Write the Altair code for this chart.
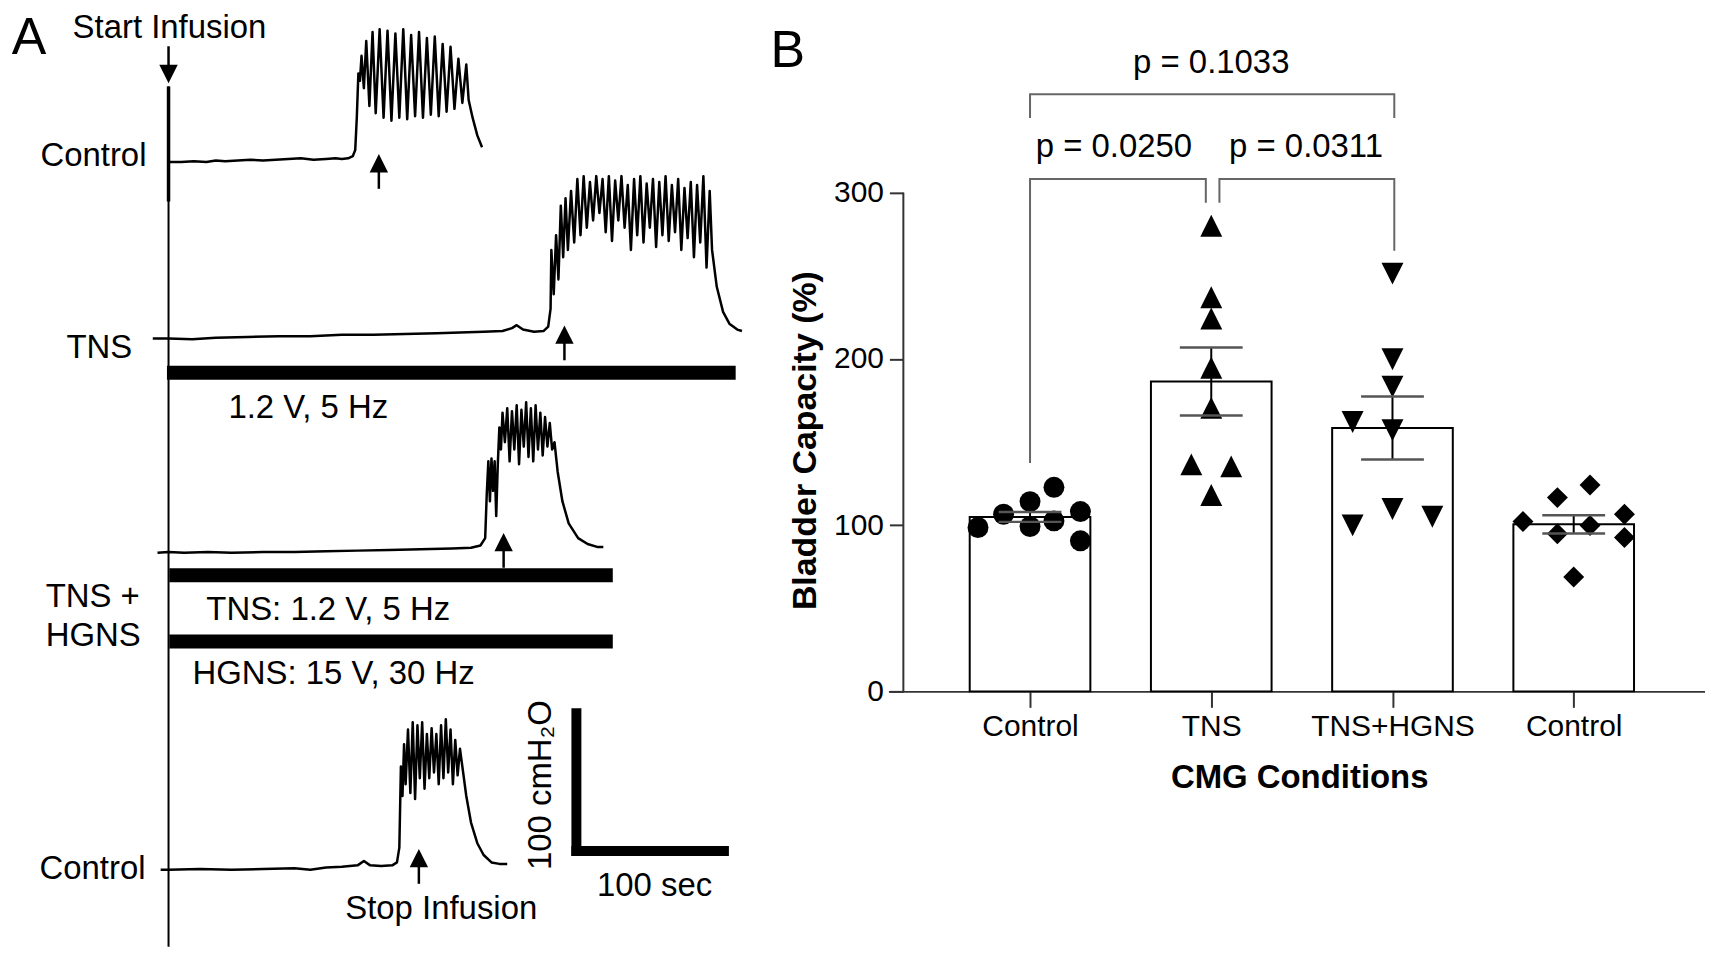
import json
import altair as alt
import pandas as pd

FONT = "Liberation Sans"

# ---------------- Panel A : CMG traces ----------------
# time (s) after start of infusion, pressure (cmH2O above the trace baseline)
T1_T = [0, 8, 16, 24, 30, 36, 44, 52, 60, 68, 76, 84, 92, 100, 106, 110, 114, 117, 118.5, 119.5,
        120.5, 121.5, 122.5, 124.0, 125.5, 127.5, 129.5, 131.5, 134.0, 136.5,
        139.0, 141.5, 144.0, 146.5, 149.0, 151.5, 154.0, 156.5, 159.0, 161.5,
        164.0, 166.5, 169.0, 171.5, 174.0, 176.5, 179.0, 181.5, 184.0, 186.5,
        189.0, 190.5, 193, 196, 199]
T1_P = [0, 0, 0.5, 0, 1, 0.5, 1, 1.5, 1, 1.5, 2, 2.5, 1.5, 2, 2.5, 2, 2.5, 4, 8, 30,
        60, 55, 72, 50, 82, 38, 88, 33, 90, 30,
        89, 28, 87, 30, 90, 29, 86, 31, 88, 30,
        84, 32, 85, 31, 80, 34, 78, 36, 70, 40,
        66, 42, 30, 18, 10]

T2_T = [-10, 0, 15, 30, 50, 70, 90, 110, 130, 150, 170, 185, 200, 212, 218, 221, 225, 232, 238, 241, 242.5,
        243, 244.5, 246, 247.5, 249, 250.5, 252, 253.5, 255.5, 257.5,
        259.5, 261.5, 263.5, 265.5, 267.5, 269.5, 271.5, 273.5, 275.5, 277.5,
        279.5, 281.5, 283.5, 285.5, 287.5, 289.5, 291.5, 293.5, 295.5, 297.5,
        299.5, 301.5, 303.5, 305.5, 307.5, 309.5, 311.5, 313.5, 315.5, 317.5,
        319.5, 321.5, 323.5, 325.5, 327.5, 329.5, 331.5, 333.5, 335.5, 337.5,
        339.5, 341.5, 343.5, 345, 348, 352, 356, 361, 364]
T2_P = [0, 0, -0.5, 0.5, 1, 1.5, 1.5, 2.5, 2.5, 3, 3.5, 4, 4.5, 5, 7, 9, 6, 4.5, 5, 8, 20,
        60, 30, 70, 40, 90, 55, 95, 60, 100, 65,
        108, 70, 110, 75, 106, 80, 110, 85, 108, 72,
        110, 66, 107, 80, 110, 75, 104, 60, 108, 70,
        110, 65, 105, 75, 108, 62, 106, 70, 110, 66,
        104, 72, 108, 60, 102, 68, 106, 55, 104, 65,
        110, 48, 100, 60, 35, 18, 10, 6, 5]

T3_T = [-7, 0, 10, 25, 40, 60, 80, 100, 120, 140, 160, 180, 192, 198, 201,
        202, 203, 204, 205, 206, 207, 208, 209, 210, 211,
        212, 213.5, 215, 216.5, 218, 219.5, 221, 222.5, 224, 225.5,
        227, 228.5, 230, 231.5, 233, 234.5, 236, 237.5, 239, 240.5,
        242, 243.5, 245, 247, 250, 254, 260, 266, 272, 276]
T3_P = [0, 0.5, 0, 0.5, 0, 0.5, 0.5, 1, 1.5, 2, 2.5, 3, 3.5, 5, 10,
        40, 62, 35, 64, 42, 62, 25, 60, 85, 70,
        95, 75, 98, 62, 96, 70, 100, 60, 97, 72,
        102, 65, 98, 62, 100, 70, 95, 66, 92, 72,
        88, 70, 75, 55, 35, 20, 10, 6, 4, 4]

T4_T = [-5, 0, 20, 40, 60, 80, 90, 100, 110, 120, 124, 128, 135, 142, 145,
        146.5, 147.5, 148.5, 149.5, 150.5, 152, 153.5, 155, 156.5, 158,
        159.5, 161, 162.5, 164, 165.5, 167, 168.5, 170, 171.5, 173,
        174.5, 176, 177.5, 179, 180.5, 182, 183.5, 185, 187, 189,
        192, 196, 200, 205, 210, 215]
T4_P = [0, 0, 0.5, 0, 0.5, 1, 0, 1.5, 2, 3, 6, 3, 2.5, 3, 5,
        15, 70, 50, 85, 58, 95, 52, 100, 48, 98,
        62, 100, 55, 92, 62, 96, 66, 92, 58, 98,
        62, 102, 66, 95, 58, 88, 64, 82, 66, 50,
        32, 18, 10, 5, 4, 4]

TRACES = [(T1_T, T1_P), (T2_T, T2_P), (T3_T, T3_P), (T4_T, T4_P)]
TRACE_BASE = [533.8, 414.2, 268.9, 54.1]          # vertical stacking of the traces (cmH2O)

# stimulation bars (TNS ; TNS+HGNS: TNS and HGNS)
STIM_T0 = [-1, 0.5, 0.5]
STIM_T1 = [360, 282, 282]
STIM_P = [390.9, 253.7, 208.8]

# stop-infusion arrows (time, tip level)
STOP_T = [133.5, 251.3, 212.7, 158.9]
STOP_TIP = [539.2, 423.0, 282.4, 68.2]
ARROW_LEN = 23.6

XA = alt.Scale(domain=[-101.9, 379.1], nice=False, zero=False)
YA = alt.Scale(domain=[0, 637.2], nice=False, zero=False)


def ax(field):
    return alt.X(field, type="quantitative", scale=XA, axis=None)


def ay(field):
    return alt.Y(field, type="quantitative", scale=YA, axis=None)


rows = []
for k, (ts, ps) in enumerate(TRACES):
    for i, (t, p) in enumerate(zip(ts, ps)):
        rows.append({"trace": k, "i": i, "t": t, "p": TRACE_BASE[k] + p})
traces_df = pd.DataFrame(rows)

trace_layer = alt.Chart(traces_df).mark_line(
    color="black", strokeWidth=2.5, strokeJoin="round"
).encode(x=ax("t"), y=ay("p"), detail="trace:N", order="i:Q")

start_df = pd.DataFrame({"t": [0, 0], "p0": [2, 507], "p1": [585, 585], "w": [2, 3.5]})
start_line = alt.Chart(start_df).mark_rule(color="black").encode(
    x=ax("t"), y=ay("p0"), y2="p1:Q",
    strokeWidth=alt.StrokeWidth("w:Q", scale=None, legend=None))

stim_df = pd.DataFrame({"t0": STIM_T0, "t1": STIM_T1, "p": STIM_P})
stim_layer = alt.Chart(stim_df).mark_rule(color="black", strokeWidth=14, strokeCap="butt").encode(
    x=ax("t0"), x2="t1:Q", y=ay("p"))

ARROW_UP = "M0,0L-1,2L1,2Z"
ARROW_DOWN = "M0,0L-1,-2L1,-2Z"

arrow_df = pd.DataFrame({"t": STOP_T, "tip": STOP_TIP})
arrow_df["tail"] = arrow_df["tip"] - ARROW_LEN
arrow_df["neck"] = arrow_df["tip"] - 6
arrow_stem = alt.Chart(arrow_df).mark_rule(color="black", strokeWidth=2.5).encode(
    x=ax("t"), y=ay("neck"), y2="tail:Q")
arrow_head = alt.Chart(arrow_df).mark_point(
    shape=ARROW_UP, size=340, filled=True, color="black", opacity=1, strokeWidth=0
).encode(x=ax("t"), y=ay("tip"))

start_arrow_df = pd.DataFrame({"t": [0], "tip": [587.2], "tail": [612.2], "neck": [593]})
start_stem = alt.Chart(start_arrow_df).mark_rule(color="black", strokeWidth=2.5).encode(
    x=ax("t"), y=ay("neck"), y2="tail:Q")
start_head = alt.Chart(start_arrow_df).mark_point(
    shape=ARROW_DOWN, size=340, filled=True, color="black", opacity=1, strokeWidth=0
).encode(x=ax("t"), y=ay("tip"))

# scale bar: 100 cmH2O x 100 sec
SB_T, SB_P, SB_LEN_T, SB_LEN_P = 255.7, 63.5, 100, 100
sbv_df = pd.DataFrame({"t": [SB_T + 3.2], "p0": [SB_P], "p1": [SB_P + SB_LEN_P]})
sbh_df = pd.DataFrame({"t0": [SB_T], "t1": [SB_T + SB_LEN_T], "p": [SB_P + 3.4]})
sb_v = alt.Chart(sbv_df).mark_rule(color="black", strokeWidth=10, strokeCap="butt").encode(
    x=ax("t"), y=ay("p0"), y2="p1:Q")
sb_h = alt.Chart(sbh_df).mark_rule(color="black", strokeWidth=10, strokeCap="butt").encode(
    x=ax("t0"), x2="t1:Q", y=ay("p"))

TXT_SIZE = 33
right_txt = pd.DataFrame({"s": ["Control", "TNS", "Control"], "t": [-14, -23, -14.6], "p": [537.8, 407.4, 54.7]})
left_txt = pd.DataFrame({"s": ["1.2 V, 5 Hz", "TNS +", "HGNS", "TNS: 1.2 V, 5 Hz", "HGNS: 15 V, 30 Hz"],
                         "t": [38, -78, -78, 24, 15.2], "p": [366.9, 239.2, 212.2, 230.4, 186.5]})
center_txt = pd.DataFrame({"s": ["Stop Infusion", "100 sec"], "t": [173.1, 308.5], "p": [27.7, 43.2]})
top_txt = pd.DataFrame({"s": ["Start Infusion"], "t": [0.6], "p": [635.6]})
panel_a_lab = pd.DataFrame({"s": ["A"], "t": [-88.5], "p": [635.0]})
rot_txt = pd.DataFrame({"s": ["100 cmH\u2082O"], "t": [236.7], "p": [111.5]})


def txt(df, **kw):
    base = dict(font=FONT, fontSize=TXT_SIZE, color="black", baseline="middle")
    base.update(kw)
    return alt.Chart(df).mark_text(**base).encode(x=ax("t"), y=ay("p"), text="s:N")


panel_a = alt.layer(
    start_line, trace_layer, stim_layer, arrow_stem, arrow_head, start_stem, start_head, sb_v, sb_h,
    txt(right_txt, align="right"),
    txt(left_txt, align="left"),
    txt(center_txt, align="center"),
    txt(top_txt, align="center", baseline="top"),
    txt(panel_a_lab, align="center", baseline="top", fontSize=52),
    txt(rot_txt, align="center", angle=270),
).properties(width=760, height=943)

# ---------------- Panel B : bladder capacity ----------------
GROUPS = ["Control", "TNS", "TNS+HGNS", "Control"]
MEANS = [105.0, 186.5, 158.5, 100.5]
SEMS = [3.0, 20.5, 19.0, 5.5]

CONTROL_PRE = [98.6, 106.6, 114.2, 99.2, 122.8, 102.6, 108.2, 90.6]
TNS_VALS = [280.2, 237.2, 224.4, 194.8, 170.6, 136.6, 135.4, 118.2]
TNS_HGNS_VALS = [251.4, 199.9, 183.4, 162.1, 157.2, 109.7, 105.1, 99.9]
CONTROL_POST = [102.2, 116.6, 124.2, 99.8, 94.8, 106.6, 92.6, 68.8]

# horizontal scatter of the symbols (fraction of category step)
CONTROL_PRE_JIT = [-0.287, -0.146, 0, 0, 0.132, 0.132, 0.278, 0.278]
TNS_JIT = [0, 0, 0, 0, 0, -0.11, 0.11, 0]
TNS_HGNS_JIT = [0, 0, 0, -0.22, 0, 0, 0.22, -0.22]
CONTROL_POST_JIT = [-0.28, -0.09, 0.09, 0.09, -0.09, 0.28, 0.28, 0]

POINT_SETS = [CONTROL_PRE, TNS_VALS, TNS_HGNS_VALS, CONTROL_POST]
JIT_SETS = [CONTROL_PRE_JIT, TNS_JIT, TNS_HGNS_JIT, CONTROL_POST_JIT]
SHAPES = ["circle", "M0,-1L-1,1L1,1Z", "M0,1L-1,-1L1,-1Z", "diamond"]
SIZES = [441, 484, 484, 441]

# comparisons
P_TEXT = ["p = 0.1033", "p = 0.0250", "p = 0.0311"]
BR_X0 = [0, 0, 1.045]
BR_X1 = [2.01, 0.97, 2.01]
BR_Y = [359.4, 308.4, 308.4]
BR_Y0 = [345.0, 137.4, 294.0]
BR_Y1 = [345.0, 294.0, 265.2]
P_X = [1.0, 0.463, 1.523]
P_Y = [378.2, 327.6, 327.6]

XB = alt.Scale(domain=[-0.754, 3.697], nice=False, zero=False)
YB = alt.Scale(domain=[-155.4, 410.4], nice=False, zero=False)

label_expr = json.dumps(GROUPS) + "[datum.value]"
AXB = alt.Axis(values=[0, 1, 2, 3], labelExpr=label_expr, offset=-259, grid=False,
               tickSize=16, tickWidth=2, tickColor="#333", domainWidth=2, domainColor="#333",
               labelFont=FONT, labelFontSize=30, labelColor="black", labelPadding=4,
               title="CMG Conditions", titleFont=FONT, titleFontSize=33, titleFontWeight="bold",
               titleColor="black", titleX=412, titleY=86, titleBaseline="middle")
AYB = alt.Axis(values=[0, 100, 200, 300], offset=-15, grid=False, domain=False,
               tickSize=14, tickWidth=2, tickColor="#333",
               labelFont=FONT, labelFontSize=30, labelColor="black", labelPadding=6,
               title="Bladder Capacity (%)", titleFont=FONT, titleFontSize=34, titleFontWeight="bold",
               titleColor="black", titleAngle=270, titleX=-98, titleY=432,
               titleAlign="center", titleBaseline="middle")


def bx(field):
    return alt.X(field, type="quantitative", scale=XB, axis=AXB)


def by(field):
    return alt.Y(field, type="quantitative", scale=YB, axis=AYB)


summ = pd.DataFrame({"idx": list(range(len(GROUPS))), "group": GROUPS, "mean": MEANS, "sem": SEMS})
summ["lo"] = summ["mean"] - summ["sem"]
summ["hi"] = summ["mean"] + summ["sem"]

bars = alt.Chart(summ).mark_bar(size=121, orient="vertical", fill="white", stroke="black",
                                strokeWidth=2).encode(x=bx("idx"), y=by("mean"))

prow = []
for k, (vals, jit) in enumerate(zip(POINT_SETS, JIT_SETS)):
    for v, j in zip(vals, jit):
        prow.append({"k": k, "x": k + j, "v": v})
pts_df = pd.DataFrame(prow)

point_layers = []
for k in range(len(GROUPS)):
    point_layers.append(
        alt.Chart(pts_df[pts_df["k"] == k]).mark_point(
            shape=SHAPES[k], size=SIZES[k], filled=True, color="black", opacity=1, strokeWidth=0
        ).encode(x=bx("x"), y=by("v"))
    )

err_line = alt.Chart(summ).mark_rule(color="black", strokeWidth=2).encode(
    x=bx("idx"), y=by("lo"), y2="hi:Q")
cap_lo = alt.Chart(summ).mark_tick(orient="horizontal", size=63, thickness=2.5, color="#555", opacity=1).encode(
    x=bx("idx"), y=by("lo"))
cap_hi = alt.Chart(summ).mark_tick(orient="horizontal", size=63, thickness=2.5, color="#555", opacity=1).encode(
    x=bx("idx"), y=by("hi"))

brow = []
for b in range(len(P_TEXT)):
    pts = [(BR_X0[b], BR_Y0[b]), (BR_X0[b], BR_Y[b]), (BR_X1[b], BR_Y[b]), (BR_X1[b], BR_Y1[b])]
    for o, (x, y) in enumerate(pts):
        brow.append({"b": b, "o": o, "x": x, "y": y})
br_df = pd.DataFrame(brow)
brackets = alt.Chart(br_df).mark_line(color="#666", strokeWidth=2, strokeJoin="miter").encode(
    x=bx("x"), y=by("y"), detail="b:N", order="o:Q")

ptxt_df = pd.DataFrame({"s": P_TEXT, "x": P_X, "y": P_Y})
ptxt = alt.Chart(ptxt_df).mark_text(font=FONT, fontSize=33, color="black", align="center",
                                    baseline="middle").encode(x=bx("x"), y=by("y"), text="s:N")

yline = alt.Chart(pd.DataFrame({"a": [0], "b": [300]})).mark_rule(color="#333", strokeWidth=2).encode(
    x=alt.value(15), y=by("a"), y2="b:Q")

blab = alt.Chart(pd.DataFrame({"s": ["B"]})).mark_text(
    font=FONT, fontSize=52, color="black", align="center", baseline="middle"
).encode(x=alt.value(-101), y=alt.value(42), text="s:N")

panel_b = alt.layer(
    bars, *point_layers, err_line, cap_lo, cap_hi, brackets, ptxt, yline, blab
).properties(width=819, height=943)

chart = alt.hconcat(panel_a, panel_b, spacing=123, bounds="flush").properties(
    padding=0
).configure(font=FONT).configure_view(stroke=None)

chart.save("out.html", embed_options={"renderer": "svg", "actions": False})
